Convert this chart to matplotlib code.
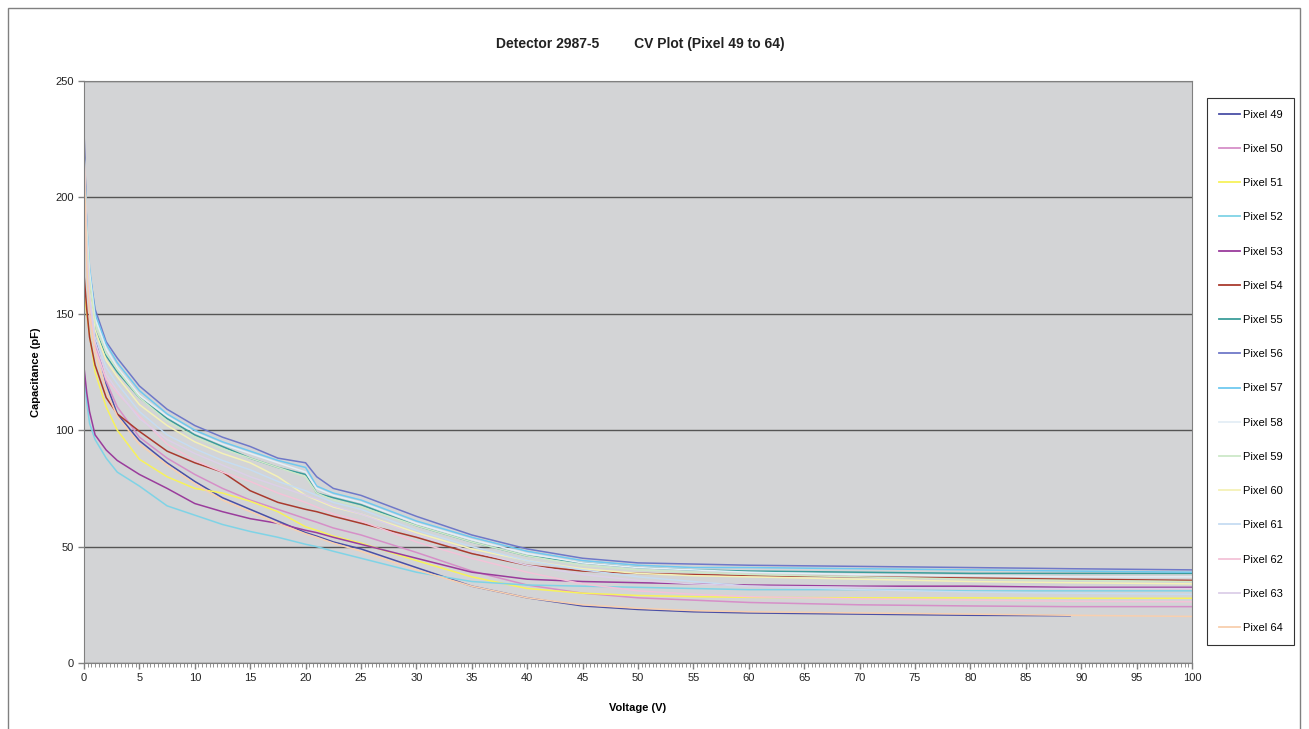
import numpy as np
import matplotlib
matplotlib.use('Agg')
import matplotlib.pyplot as plt
from matplotlib.ticker import MultipleLocator
from matplotlib.patches import Rectangle

plt.rcParams['font.family'] = ['Liberation Sans', 'DejaVu Sans']

# voltage grid (V) the curves were read at
volts = [0, 0.25, 0.5, 1, 2, 3, 5, 7.5, 10, 12.5, 15, 17.5, 20, 21, 22.5, 25,
         30, 35, 40, 45, 50, 55, 60, 70, 80, 89, 100]

# capacitance (pF) per pixel
pix49 = [229, 185, 160, 140, 120, 107, 95.5, 86, 78, 71, 66, 61, 56, 54.5, 52, 49,
         41, 33, 28, 24.5, 23, 22, 21.5, 21, 20.5, 20.3, np.nan]
pix50 = [220, 175, 155, 137, 121, 110, 97, 88, 81, 75, 70, 66, 62, 60.5, 58, 55,
         47.5, 39.5, 33.5, 30, 28, 27, 26, 25, 24.5, 24.2, 24.2]
pix51 = [160, 150, 141, 125, 110, 100, 87.5, 80, 75, 73, 69.5, 65, 58.5, 57, 54.5, 51.5,
         44, 37, 32, 30, 29, 28.5, 28.2, 28, 28, 27.8, 27.8]
pix52 = [125, 112, 103, 96, 88, 82, 76, 67.5, 63.5, 59.5, 56.5, 54, 51, 50, 48, 45,
         39, 35, 33.5, 33, 32.5, 32, 31.5, 31.5, 31, 31, 31]
pix53 = [127, 116, 108, 98, 91.5, 87, 81, 75, 68.5, 65, 62, 60, 57, 56, 54, 51,
         45, 39, 36, 35, 34.5, 34, 33.5, 33, 33, 32.5, 32.5]
pix54 = [167, 152, 140, 128, 114, 107, 99.5, 91, 86, 82, 74, 69, 66, 65, 63, 60,
         54, 47, 42, 39.5, 38.5, 38, 37.5, 37, 36.5, 36, 35.5]
pix55 = [215, 180, 160, 143, 132, 125, 114, 105, 98, 93, 88, 84, 81, 73, 71, 68,
         59, 52, 46, 43, 41, 40, 39.5, 39, 38.5, 38.5, 38.5]
pix56 = [205, 182, 168, 152, 138, 131, 119, 109, 102, 97, 93, 88, 86, 80, 75, 72,
         63, 55, 49, 45, 43, 42.5, 42, 41.5, 41, 40.5, 40]
pix57 = [220, 188, 170, 150, 137, 129, 117, 107, 100, 95, 91, 87, 84, 76, 73, 70,
         61, 54, 48, 44, 42, 41, 41, 40.5, 40, 39.5, 39]
pix58 = [220, 186, 168, 148, 135, 127, 115, 106, 99, 94, 90, 86, 82, 75, 72, 69,
         60, 53, 47, 43, 41, 40, 39, 38, 37.5, 37, 37]
pix59 = [220, 183, 165, 146, 133, 126, 114, 104, 97, 92, 88, 84, 80, 73, 70, 67,
         59, 52, 46, 42, 40, 39, 38, 37, 36, 35.5, 35]
pix60 = [220, 180, 160, 143, 130, 123, 111, 102, 95, 90, 86, 80, 72, 70, 67, 64,
         56, 49, 44, 40.5, 38.5, 37.5, 37, 36, 35, 34.5, 34]
pix61 = [220, 178, 158, 140, 127, 120, 108, 98, 92, 87, 83, 78, 74, 72, 69, 66,
         57, 50, 44, 40, 37, 35, 33, 31.5, 30.5, 30, 29.5]
pix62 = [220, 175, 155, 135, 122, 116, 106, 94, 87, 82, 78, 73, 69, 67, 64, 61,
         52, 45, 39, 34, 31, 29.5, 28.5, 27.5, 27, 26.5, 26.3]
pix63 = [220, 178, 158, 138, 124, 117, 105, 96, 90, 85, 80, 76, 72, 70.5, 67.5, 64,
         55, 48, 42, 38, 35.5, 34, 33, 32.5, 32, 32, 32]
pix64 = [220, 170, 150, 133, 117, 106, 94, 85, 77, 70, 65, 60, 55.5, 54, 51.5, 48,
         40, 33, 28, 25, 23.5, 22.5, 22, 21.5, 21, 20.5, 20]

labels = ['Pixel %d' % n for n in range(49, 65)]
series = [pix49, pix50, pix51, pix52, pix53, pix54, pix55, pix56,
          pix57, pix58, pix59, pix60, pix61, pix62, pix63, pix64]
colors = ['#4a4fa6', '#d68fc8', '#f7f25a', '#7fd3e6', '#9a3c9c', '#a93a2e',
          '#3a9d9a', '#6f78c8', '#6fc9f0', '#e4eef6', '#cde8c8', '#f4f1b6',
          '#c6dcf2', '#f3c3d8', '#dccfe8', '#f8cfae']

W, H = 1309, 729
fig = plt.figure(figsize=(W / 100, H / 100), dpi=100)
fig.patches.append(Rectangle((8 / W, -0.01), 1292 / W, 1 - 8 / H + 0.01,
                             transform=fig.transFigure, fill=False,
                             edgecolor='#808080', linewidth=1))

ax = fig.add_axes([84 / W, 1 - 663 / H, (1192 - 84) / W, (663 - 81) / H])
ax.set_facecolor('#d3d4d6')

for vals, lab, col in zip(series, labels, colors):
    ax.plot(volts, vals, color=col, linewidth=1.1, label=lab)

ax.set_xlim(0, 100)
ax.set_ylim(0, 250)
ax.xaxis.set_major_locator(MultipleLocator(5))
ax.xaxis.set_minor_locator(MultipleLocator(1 / 3))
ax.yaxis.set_major_locator(MultipleLocator(50))
ax.grid(axis='y', color='#555555', linewidth=1)
ax.set_axisbelow(True)
for s in ax.spines.values():
    s.set_color('#808080')
ax.tick_params(axis='both', labelsize=8, color='#808080', length=4, width=1,
               labelcolor='#222222')
ax.tick_params(axis='x', which='minor', length=3, color='#808080')

ax.set_xlabel('Voltage (V)', fontsize=8, fontweight='bold', labelpad=14)
ax.set_ylabel('Capacitance (pF)', fontsize=8, fontweight='bold', labelpad=10)
fig.text(640 / W, 1 - 44 / H,
         'Detector 2987-5         CV Plot (Pixel 49 to 64)',
         ha='center', va='center', fontsize=10, fontweight='bold',
         color='#222222')

leg = fig.legend(loc='upper left', bbox_to_anchor=(1207 / W, 1 - 98 / H),
                 bbox_transform=fig.transFigure, fontsize=8,
                 frameon=True, fancybox=False, edgecolor='#000000',
                 handlelength=1.9, handletextpad=0.25, labelspacing=2.18,
                 borderpad=1.05, borderaxespad=0)
leg.get_frame().set_linewidth(0.8)
for line in leg.get_lines():
    line.set_linewidth(1.3)

fig.savefig('out.png', dpi=100)
